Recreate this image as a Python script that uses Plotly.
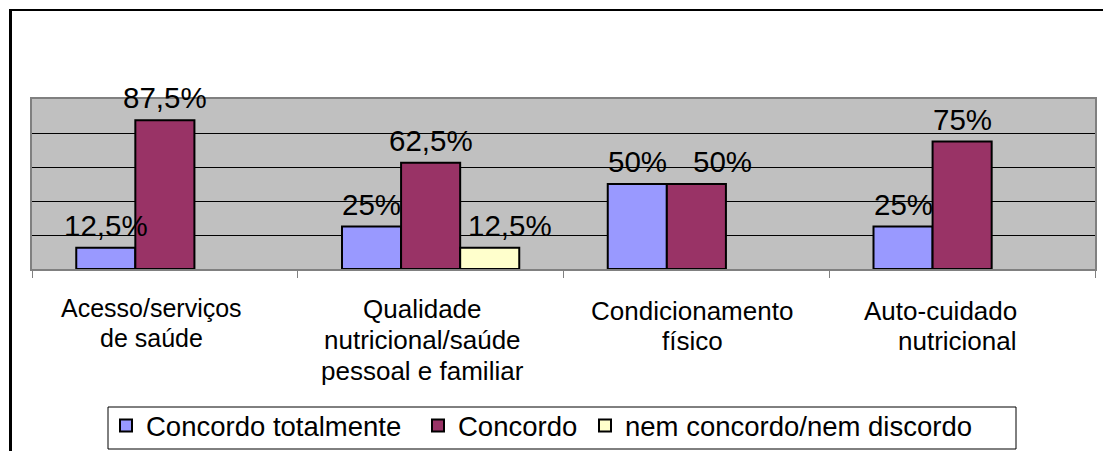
import plotly.graph_objects as go

# Survey answers per topic (percent of respondents)
categories = [
    "Acesso/serviços de saúde",
    "Qualidade nutricional/saúde pessoal e familiar",
    "Condicionamento físico",
    "Auto-cuidado nutricional",
]
category_labels = [
    "Acesso/serviços<br>de saúde",
    "Qualidade<br>nutricional/saúde<br>pessoal e familiar",
    "Condicionamento<br>físico",
    "Auto-cuidado<br>nutricional",
]
series_names = ["Concordo totalmente", "Concordo", "nem concordo/nem discordo"]
concordo_totalmente = [12.5, 25, 50, 25]
concordo = [87.5, 62.5, 50, 75]
nem_concordo_nem_discordo = [None, 12.5, None, None]

series_values = [concordo_totalmente, concordo, nem_concordo_nem_discordo]
series_colors = ["#9999FF", "#993366", "#FFFFCC"]

# ---- layout / style settings ----
W, H = 1103, 451
ML, MR, MT, MB = 32, 8, 99, 182
BARGAP = 0.333
FONT = "Liberation Sans, Arial, sans-serif"

# per-category label placement: font size, alignment, horizontal nudge (px),
# top edge of first line (px), line pitch (px)
cat_style = [
    dict(size=25, xanchor="center", xshift=-13, top=293, pitch=30),
    dict(size=26, xanchor="center", xshift=-8, top=293, pitch=31),
    dict(size=26, xanchor="center", xshift=-4, top=295, pitch=30),
    dict(size=26, xanchor="right", xshift=56, top=295, pitch=30),
]
# value labels nudged sideways (series index, category index) -> px
label_nudge = {(1, 2): 26, (2, 1): 20}
# legend entry widths so the entries spread across the box
legend_widths = [267, 122, 382]
# legend frame (px): left, right, top, bottom
LEG_BOX = (108, 1016, 407, 449)

plot_w = W - ML - MR
plot_h = H - MT - MB


def px_x(x):
    return (x - ML) / plot_w


def px_y(y):
    return (H - MB - y) / plot_h


def pct(v):
    return ("%g" % v).replace(".", ",") + "%"


fig = go.Figure()
for name, vals, color, lw in zip(series_names, series_values, series_colors, legend_widths):
    fig.add_trace(go.Bar(
        name=name,
        x=categories,
        y=vals,
        marker=dict(color=color, line=dict(color="black", width=2)),
        legendwidth=lw,
        hoverinfo="skip",
    ))

annotations = []

# value labels above every bar, drawn on top of all bars
n = len(series_values)
slot = (1 - BARGAP) / n
for j, vals in enumerate(series_values):
    for i, v in enumerate(vals):
        if v is None:
            continue
        annotations.append(dict(
            x=i + (j - (n - 1) / 2) * slot, y=v, xref="x", yref="y",
            text=pct(v), showarrow=False, yanchor="bottom", yshift=4,
            xshift=label_nudge.get((j, i), 0),
            font=dict(family=FONT, size=29.5, color="black"),
        ))

# category labels under the axis, one annotation per text line
for i, (lab, st) in enumerate(zip(category_labels, cat_style)):
    for k, line in enumerate(lab.split("<br>")):
        annotations.append(dict(
            x=i, y=px_y(st["top"] + k * st["pitch"]), xref="x", yref="paper",
            text=line, showarrow=False, yanchor="top", borderpad=0,
            xanchor=st["xanchor"], xshift=st["xshift"],
            font=dict(family=FONT, size=st["size"], color="black"),
        ))

lx0, lx1, ly0, ly1 = LEG_BOX
shapes = [
    # outer frame: left and top edges
    dict(type="line", xref="paper", yref="paper",
         x0=px_x(10.5), x1=px_x(10.5), y0=px_y(9), y1=px_y(460),
         line=dict(color="black", width=3)),
    dict(type="line", xref="paper", yref="paper",
         x0=px_x(9), x1=px_x(1110), y0=px_y(10), y1=px_y(10),
         line=dict(color="black", width=2)),
    # legend frame
    dict(type="rect", xref="paper", yref="paper",
         x0=px_x(lx0), x1=px_x(lx1), y0=px_y(ly0), y1=px_y(ly1),
         line=dict(color="black", width=1), fillcolor="white"),
]

fig.update_layout(
    width=W, height=H,
    margin=dict(l=ML, r=MR, t=MT, b=MB, pad=0, autoexpand=False),
    paper_bgcolor="white",
    plot_bgcolor="#C0C0C0",
    barmode="group",
    bargap=BARGAP,
    bargroupgap=0,
    font=dict(family=FONT, color="black"),
    showlegend=True,
    legend=dict(
        orientation="h", x=px_x(lx0 - 2), xanchor="left",
        y=px_y(ly0 - 6), yanchor="top",
        borderwidth=0, bgcolor="rgba(0,0,0,0)",
        font=dict(family=FONT, size=27.5, color="black"),
    ),
    annotations=annotations,
    shapes=shapes,
)
fig.update_xaxes(
    type="category",
    showticklabels=False,
    tickson="boundaries", ticks="outside", ticklen=7, tickcolor="#808080",
    showgrid=False, showline=True, linecolor="#808080", linewidth=2, mirror=True,
)
fig.update_yaxes(
    range=[0, 100], dtick=20, showticklabels=False,
    showgrid=True, gridcolor="black", gridwidth=1, zeroline=False,
    showline=True, linecolor="#808080", linewidth=2, mirror=True,
)

fig.write_html("out.html")
